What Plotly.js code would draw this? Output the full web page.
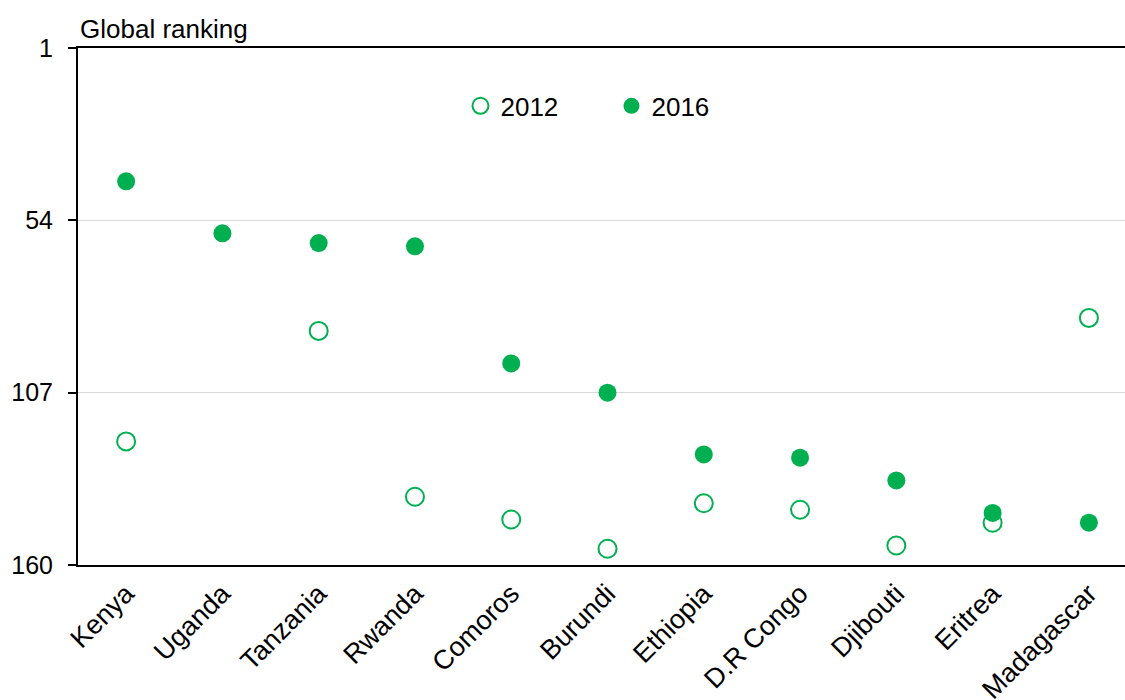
<!DOCTYPE html>
<html>
<head>
<meta charset="utf-8">
<script src="https://cdn.plot.ly/plotly-3.0.1.min.js"></script>
<style>html,body{margin:0;padding:0;background:#fff;}#chart{width:1125px;height:700px;}</style>
</head>
<body>
<div id="chart"></div>
<script>
const countries = ["Kenya","Uganda","Tanzania","Rwanda","Comoros","Burundi","Ethiopia","D.R Congo","Djibouti","Eritrea","Madagascar"];
const rank2012 = [122, null, 88, 139, 146, 155, 141, 143, 154, 147, 84];
const rank2016 = [42, 58, 61, 62, 98, 107, 126, 127, 134, 144, 147];
const yTicks = [1, 54, 107, 160];

const green = "#00b050";
const fam = "Liberation Sans, Arial, sans-serif";
const font = {family: fam, size: 25, color: "#000"};
const bigFont = {family: fam, size: 26, color: "#000"};
const xFont = {family: fam, size: 27, color: "#000"};

const traces = [
  {x: countries, y: rank2012, name: "2012", type: "scatter", mode: "markers",
   marker: {symbol: "circle-open", size: 18, color: green, line: {width: 2, color: green}}},
  {x: countries, y: rank2016, name: "2016", type: "scatter", mode: "markers",
   marker: {symbol: "circle", size: 18, color: green}}
];

const layout = {
  width: 1125, height: 700,
  margin: {l: 78, r: 0, t: 48, b: 135},
  paper_bgcolor: "#fff", plot_bgcolor: "#fff",
  font: font,
  showlegend: true,
  legend: {orientation: "h", x: 0.3653, y: 0.888, xanchor: "left", yanchor: "middle",
           font: bigFont, bgcolor: "rgba(0,0,0,0)", entrywidth: 106, itemwidth: 30},
  xaxis: {type: "category", range: [-0.5, 10.375], showgrid: false, zeroline: false,
          showline: true, linecolor: "#000", linewidth: 2, mirror: true,
          ticks: "", tickangle: -45, tickfont: xFont, fixedrange: true},
  yaxis: {range: [160, 1], tickvals: yTicks, ticktext: yTicks.map(String),
          showgrid: true, gridcolor: "#d9d9d9", gridwidth: 1, zeroline: false,
          showline: true, linecolor: "#000", linewidth: 2,
          ticks: "outside", ticklen: 8, tickwidth: 2, tickcolor: "#000",
          ticklabelstandoff: 10, tickfont: font, fixedrange: true},
  annotations: [{text: "Global ranking", xref: "paper", yref: "paper", x: 0, y: 1,
                 xanchor: "left", yanchor: "bottom", yshift: 2, xshift: 0, showarrow: false, font: bigFont}]
};

Plotly.newPlot("chart", traces, layout, {staticPlot: true});
</script>
</body>
</html>
